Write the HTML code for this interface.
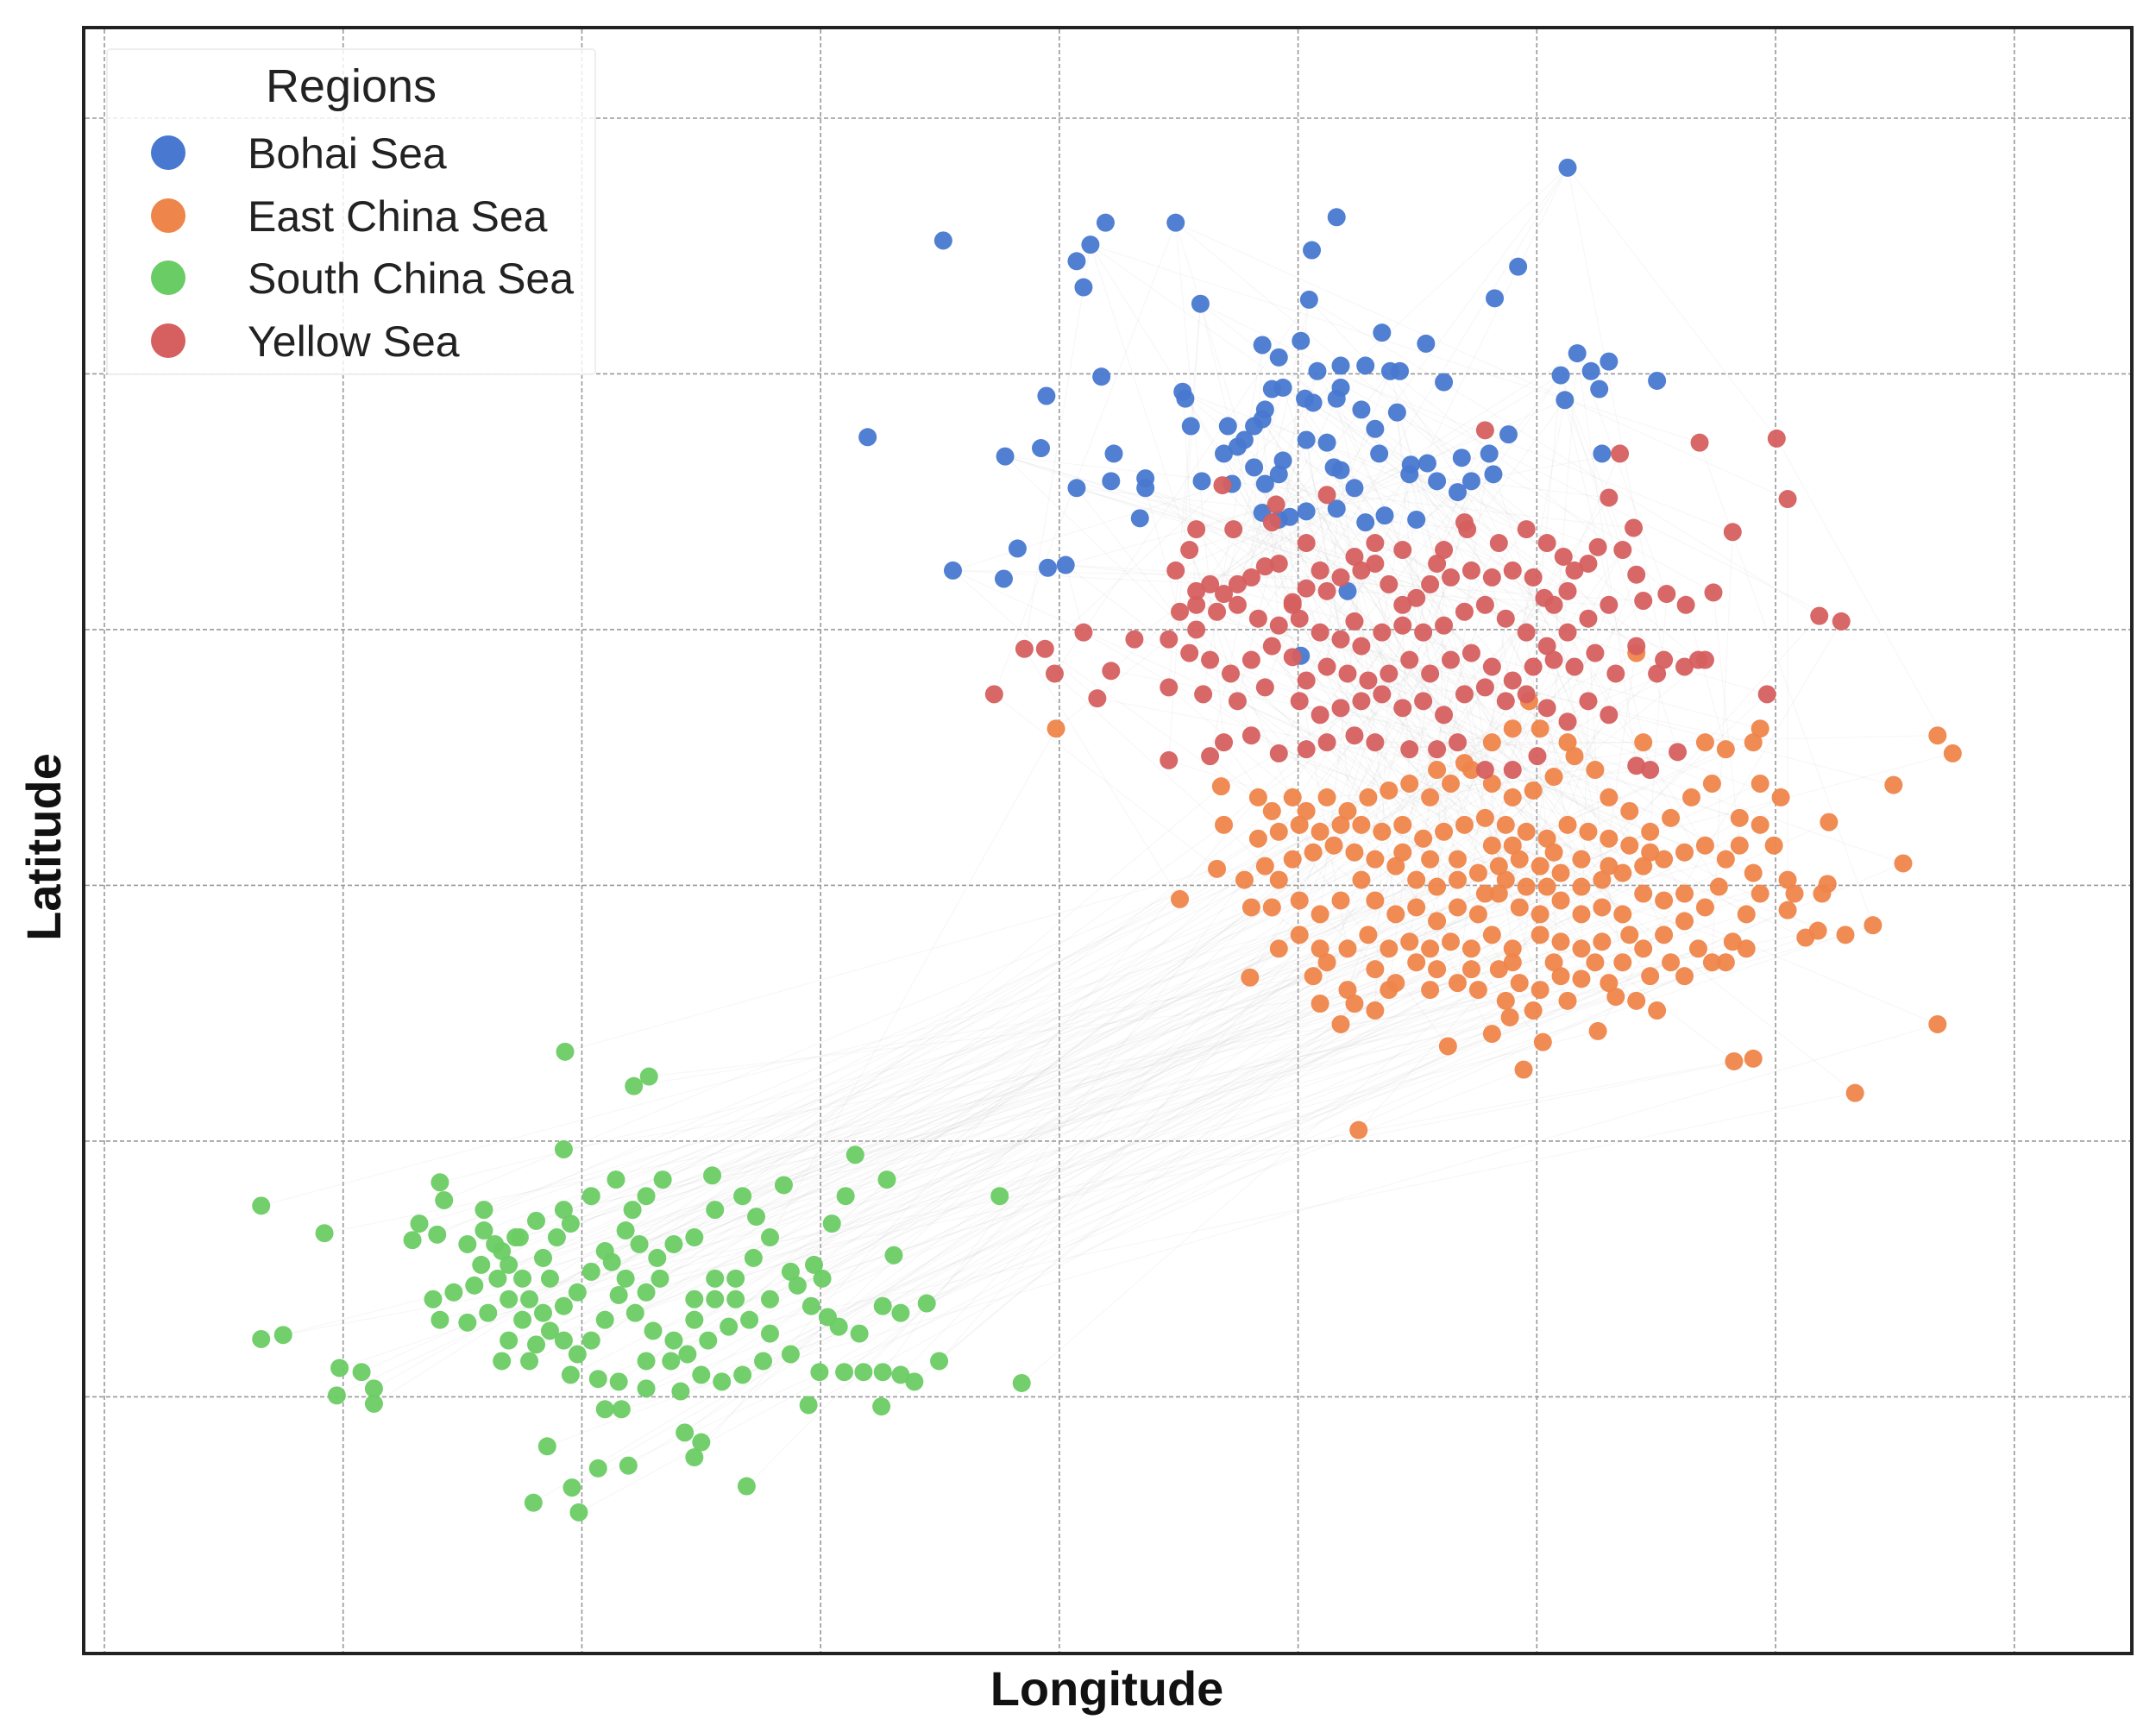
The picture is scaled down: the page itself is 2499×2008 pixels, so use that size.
<!DOCTYPE html>
<html><head><meta charset="utf-8"><style>
html,body{margin:0;padding:0;background:#fff;}
svg{display:block;font-family:"Liberation Sans",Arial,sans-serif;}
</style></head><body>
<svg id="chart" width="2499" height="2008" viewBox="0 0 2499 2008" xmlns="http://www.w3.org/2000/svg">
<rect x="0" y="0" width="2499" height="2008" fill="#fff"/>
<g id="grid"></g>
<g id="edges"></g>
<g id="points"></g>
<rect x="97" y="32" width="2374" height="1885" fill="none" stroke="#222" stroke-width="4"/>
<g>
<rect x="124" y="57" width="566" height="377" fill="#fff" fill-opacity="0.8" stroke="#eee" stroke-width="2" rx="4"/>
<text x="407" y="118" font-size="54" text-anchor="middle" fill="#222">Regions</text>
<g><circle cx="195" cy="177" r="20" fill="#4878d0"/><text x="287" y="195" font-size="50" fill="#222">Bohai Sea</text></g>
<g><circle cx="195" cy="250" r="20" fill="#ee854a"/><text x="287" y="268" font-size="50" fill="#222">East China Sea</text></g>
<g><circle cx="195" cy="322" r="20" fill="#6acc64"/><text x="287" y="340" font-size="50" fill="#222">South China Sea</text></g>
<g><circle cx="195" cy="395" r="20" fill="#d65f5f"/><text x="287" y="413" font-size="50" fill="#222">Yellow Sea</text></g>
</g>
<text x="1283" y="1977" font-size="56" font-weight="bold" text-anchor="middle" fill="#111">Longitude</text>
<text x="0" y="0" transform="translate(70,982) rotate(-90)" font-size="56" font-weight="bold" text-anchor="middle" fill="#111">Latitude</text>
</svg>
<script>
const lonTicks=[7.6,24.96,42.32,59.68,77.04,94.4,111.76,129.12,146.48];
const latTicks=[121.4,102.8,84.2,65.6,47.0,28.4];
const bohai=[[114.0,117.8],[68.6,112.5],[80.4,113.8],[79.3,112.2],[78.3,111.0],[78.8,109.1],[85.5,113.8],[97.2,114.2],[95.4,111.8],[95.2,108.2],[110.4,110.6],[108.7,108.3],[87.3,107.9],[100.5,105.8],[103.7,105.0],[91.8,104.9],[93.0,104.0],[94.6,105.2],[95.8,103.0],[97.5,103.4],[99.3,103.4],[101.1,103.0],[101.8,103.0],[105.0,102.2],[114.7,104.3],[115.7,103.0],[117.0,103.7],[113.5,102.7],[120.5,102.3],[116.3,101.7],[113.8,100.9],[80.1,102.6],[76.1,101.2],[86.0,101.5],[86.2,101.0],[92.5,101.7],[93.3,101.8],[94.9,101.0],[95.5,100.7],[97.2,101.0],[97.5,101.8],[99.0,100.2],[101.6,100.0],[92.0,100.2],[91.2,99.0],[91.8,99.5],[86.6,99.0],[89.3,99.0],[89.0,97.0],[90.0,97.5],[90.5,98.0],[91.2,96.0],[92.0,94.8],[93.3,96.5],[95.0,98.0],[96.5,97.8],[97.0,96.0],[97.5,95.8],[100.0,98.8],[100.3,97.0],[102.6,96.2],[103.8,96.3],[106.3,96.7],[108.3,97.0],[109.7,98.4],[108.6,95.5],[107.0,95.0],[106.0,94.2],[104.5,95.0],[102.5,95.5],[116.5,97.0],[63.1,98.2],[73.1,96.8],[75.7,97.4],[81.0,97.0],[78.3,94.5],[80.8,95.0],[83.3,95.2],[83.3,94.5],[87.4,95.0],[89.6,94.8],[93.0,95.5],[98.5,94.5],[99.3,92.0],[97.2,93.0],[100.7,92.5],[103.0,92.2],[95.0,92.8],[91.8,92.7],[93.0,92.2],[93.8,92.4],[82.9,92.3],[74.0,90.1],[69.3,88.5],[73.0,87.9],[76.2,88.7],[77.5,88.9],[98.0,87.0],[94.6,82.3]];
const eastChina=[[142.0,75.2],[140.9,76.5],[137.7,72.9],[133.0,70.2],[138.4,67.2],[136.2,62.7],[134.2,62.0],[132.2,62.3],[132.9,65.7],[130.5,65.0],[130.0,63.8],[140.9,55.5],[134.9,50.5],[127.5,53.0],[126.1,52.8],[98.8,47.8],[105.3,53.9],[108.5,54.8],[110.8,52.2],[112.2,54.2],[116.2,55.0],[109.8,56.0],[119.0,57.2],[120.5,56.5],[122.5,59.0],[124.5,60.0],[126.0,61.5],[127.0,63.5],[128.0,65.0],[127.5,66.5],[126.5,68.5],[128.0,70.0],[129.5,72.0],[128.0,73.0],[127.5,76.0],[125.5,75.5],[124.0,76.0],[124.5,73.0],[123.0,72.0],[121.5,70.5],[120.0,69.5],[118.5,71.0],[117.0,72.0],[116.0,74.0],[114.5,75.0],[113.0,73.5],[111.5,72.5],[110.0,72.0],[108.5,73.0],[107.0,74.0],[105.5,73.0],[104.0,72.0],[102.5,73.0],[101.0,72.5],[99.5,72.0],[98.0,71.0],[96.5,72.0],[95.0,71.0],[94.0,72.0],[92.5,71.0],[91.5,72.0],[88.8,72.8],[89.0,70.0],[88.5,66.8],[85.8,64.6],[91.0,64.0],[90.9,58.9],[93.0,61.0],[94.5,62.0],[96.0,61.0],[95.5,59.0],[96.0,57.0],[98.0,58.0],[100.0,59.5],[101.5,58.5],[103.0,60.0],[104.5,59.5],[106.0,58.5],[107.5,58.0],[109.0,59.5],[110.5,58.5],[112.0,58.0],[113.5,59.0],[115.0,58.8],[117.0,58.5],[118.0,60.0],[119.5,61.0],[121.0,62.0],[122.5,63.0],[124.0,64.0],[125.0,65.5],[125.5,67.5],[124.0,68.5],[122.5,68.0],[121.0,67.5],[119.5,67.0],[118.0,66.5],[116.5,66.0],[115.0,65.5],[113.5,66.5],[112.0,67.0],[110.5,67.5],[109.0,67.0],[107.5,66.5],[106.0,66.0],[104.5,65.5],[103.0,66.0],[101.5,67.0],[100.0,67.5],[98.5,68.0],[97.0,68.5],[95.5,68.0],[94.0,67.5],[92.0,67.0],[90.5,66.0],[91.5,69.0],[93.0,69.5],[94.5,70.0],[96.0,69.5],[97.5,70.0],[99.0,70.0],[100.5,69.5],[102.0,70.0],[103.5,69.0],[105.0,69.5],[106.5,70.0],[108.0,70.5],[109.5,70.0],[111.0,69.5],[112.5,69.0],[114.0,70.0],[115.5,69.5],[117.0,69.0],[118.5,68.5],[120.0,68.0],[117.0,67.0],[115.0,67.5],[113.0,68.0],[110.0,68.5],[108.5,68.5],[106.0,67.5],[104.0,67.5],[102.0,68.0],[99.0,66.0],[97.5,64.5],[96.0,63.5],[94.5,64.5],[92.5,64.0],[93.0,66.0],[100.0,64.5],[101.5,63.5],[103.0,64.0],[104.5,63.0],[106.0,64.0],[107.5,63.5],[109.0,65.0],[110.5,64.0],[112.0,63.5],[113.5,64.5],[115.0,63.5],[116.5,64.0],[118.0,63.5],[119.5,65.0],[121.0,64.5],[122.5,65.0],[121.5,60.0],[120.0,59.0],[118.5,62.0],[116.5,61.5],[115.0,61.0],[113.5,61.5],[112.0,62.0],[110.0,61.0],[108.5,62.0],[107.0,61.0],[105.5,61.5],[104.0,61.0],[102.5,61.5],[101.0,61.0],[99.5,62.0],[98.0,61.0],[96.5,60.0],[101.0,58.0],[104.0,58.0],[107.0,59.5],[110.0,60.0],[113.0,60.0],[116.0,60.0],[117.5,57.5],[114.0,57.2],[111.5,56.5],[109.5,57.2],[100.0,56.5],[98.5,57.0],[97.5,55.5],[76.8,77.0],[119.0,82.5],[111.2,79.0],[110.0,77.0],[112.0,77.0],[114.0,76.0],[108.5,76.0],[106.5,74.5],[104.5,74.0],[119.5,76.0],[128.0,77.0],[127.0,61.0],[125.5,60.0],[123.5,61.0],[131.3,61.8],[130.0,66.0],[129.0,68.5],[126.5,70.5],[132.5,65.0],[109.5,66.0],[111.0,65.5],[108.0,65.0],[112.5,65.5]];
const southChina=[[19.0,42.3],[23.6,40.3],[19.0,32.6],[20.6,32.9],[24.7,30.5],[26.3,30.2],[24.5,28.5],[27.2,29.0],[27.2,27.9],[41.1,53.5],[46.1,51.0],[47.2,51.7],[41.0,46.4],[32.0,44.0],[30.5,41.0],[30.0,39.8],[31.8,40.2],[32.3,42.7],[35.2,42.0],[34.0,39.5],[35.0,38.0],[34.5,36.5],[36.2,37.0],[37.0,38.0],[36.0,39.5],[37.8,40.0],[39.0,41.2],[41.0,42.0],[41.5,41.0],[40.5,40.0],[39.5,38.5],[38.0,37.0],[37.0,35.5],[35.5,34.5],[34.0,33.8],[32.0,34.0],[31.5,35.5],[33.0,36.0],[38.0,34.0],[39.5,34.5],[41.0,35.0],[42.0,36.0],[43.0,37.5],[44.0,39.0],[45.5,40.5],[46.0,42.0],[47.0,43.0],[48.2,44.2],[44.8,44.2],[43.0,43.0],[46.5,39.5],[47.8,38.5],[49.0,39.5],[50.5,40.0],[52.0,42.0],[51.8,44.5],[54.0,43.0],[55.0,41.5],[57.0,43.8],[56.0,40.0],[54.8,38.5],[53.5,37.0],[52.0,35.5],[50.5,34.0],[49.0,32.5],[47.5,33.2],[46.2,34.5],[45.0,35.8],[44.0,34.0],[43.0,32.5],[42.0,31.5],[41.0,32.5],[40.0,33.2],[39.0,32.2],[37.0,32.5],[36.5,31.0],[38.5,31.0],[47.0,31.0],[48.8,31.0],[50.0,31.5],[51.5,32.5],[53.0,33.5],[54.5,34.0],[56.0,33.0],[57.5,31.5],[55.5,31.0],[54.0,30.0],[52.5,29.5],[51.0,30.0],[49.5,28.8],[47.0,29.0],[45.0,29.5],[43.5,29.7],[41.5,30.0],[44.0,27.5],[45.2,27.5],[39.8,24.8],[41.6,21.8],[43.5,23.2],[45.7,23.4],[49.8,25.8],[51.0,25.1],[50.5,24.0],[54.3,21.9],[38.8,20.7],[42.1,20.0],[58.8,27.8],[59.6,30.2],[61.4,30.2],[62.8,30.2],[64.2,30.2],[65.5,30.0],[66.5,29.5],[64.1,27.7],[68.3,31.0],[61.0,33.5],[62.5,33.0],[60.2,34.2],[59.0,35.0],[58.0,36.5],[59.2,38.0],[60.5,41.0],[61.5,43.0],[62.2,46.0],[64.5,44.2],[65.0,38.7],[64.2,35.0],[65.5,34.5],[67.4,35.2],[72.7,43.0],[74.3,29.4],[59.8,37.0],[57.5,37.5],[47.0,36.0],[48.0,37.0],[50.5,35.5],[52.0,37.0],[53.5,35.5],[56.0,35.5],[45.5,37.0],[44.5,38.2],[40.0,37.0],[38.5,35.5],[35.2,40.5],[36.5,39.0],[37.5,40.0]];
const yellow=[[129.2,98.1],[123.6,97.8],[130.0,93.7],[132.3,85.2],[133.9,84.8],[126.0,91.3],[124.6,86.9],[122.6,86.0],[121.2,86.8],[119.0,88.2],[118.0,90.0],[116.2,90.2],[115.5,89.0],[114.5,88.5],[113.7,89.5],[112.5,90.5],[114.0,87.0],[113.0,86.0],[111.5,88.0],[110.0,88.5],[108.5,88.0],[107.0,88.5],[105.5,88.0],[104.5,89.0],[104.0,87.5],[103.0,86.5],[102.0,86.0],[101.0,87.5],[100.0,89.0],[99.0,88.5],[98.5,89.5],[97.5,88.0],[96.5,87.0],[96.0,88.5],[95.0,87.2],[94.0,86.2],[93.0,89.0],[92.0,88.8],[91.0,88.0],[90.0,87.5],[89.0,86.8],[88.0,87.5],[87.0,87.0],[85.5,88.5],[87.0,86.0],[88.5,85.5],[90.0,86.0],[91.5,85.0],[93.0,84.5],[94.5,85.0],[96.0,84.0],[97.5,83.5],[99.0,83.0],[100.5,84.0],[102.0,84.5],[103.5,84.0],[105.0,84.5],[106.5,85.5],[108.0,86.0],[109.5,85.0],[111.0,84.0],[112.5,83.0],[114.0,84.0],[115.5,85.0],[117.0,86.0],[119.5,86.3],[121.0,82.0],[122.5,81.5],[123.5,82.0],[120.5,81.0],[119.0,83.0],[117.5,81.0],[116.0,82.5],[114.5,81.5],[113.0,82.0],[111.5,81.5],[110.0,80.5],[108.5,81.5],[107.0,82.5],[105.5,82.0],[104.0,81.0],[102.5,82.0],[101.0,81.0],[99.5,80.5],[98.0,81.0],[96.5,81.5],[95.0,80.5],[94.0,82.2],[92.5,83.0],[91.0,82.0],[89.5,81.0],[88.0,82.0],[86.5,82.5],[85.0,83.5],[85.8,85.5],[82.5,83.5],[80.8,81.2],[79.8,79.2],[78.8,84.0],[76.0,82.8],[74.5,82.8],[72.3,79.5],[76.7,81.0],[85.0,80.0],[87.5,79.5],[90.0,79.0],[92.0,80.0],[94.5,79.0],[96.0,78.0],[97.5,78.5],[99.0,79.0],[100.5,79.5],[102.0,78.5],[103.5,79.0],[105.0,78.0],[106.5,79.5],[108.0,80.0],[109.5,79.0],[111.0,79.5],[112.5,78.5],[114.0,77.5],[115.5,79.0],[117.0,78.0],[124.0,82.0],[128.5,79.5],[106.0,76.0],[104.5,75.5],[102.5,75.5],[100.0,76.0],[98.5,76.5],[96.5,76.0],[95.0,75.5],[93.0,75.2],[91.0,76.5],[89.0,76.0],[88.0,75.0],[85.0,74.7],[111.8,75.0],[110.0,74.0],[108.0,74.0],[119.0,74.3],[122.0,75.3],[120.0,74.0],[112.3,86.5],[109.0,90.5],[106.5,92.0],[105.0,90.0],[102.0,90.0],[100.0,90.5],[95.0,90.5],[92.5,92.0],[89.7,91.5],[87.0,91.5],[86.5,90.0],[111.0,91.5],[117.0,93.8],[118.8,91.6],[106.7,91.5],[98.5,84.8],[87.0,84.2],[108.0,98.7],[117.8,97.0],[94.0,86.0],[88.9,94.7],[92.8,93.3],[96.5,94.0]];

const NS='http://www.w3.org/2000/svg';
const X0=121, LON0=7.6, KX=15.94, Y0=137, LAT0=121.4, KY=15.94;
function xScale(lon){return X0+(lon-LON0)*KX;}
function yScale(lat){return Y0+(LAT0-lat)*KY;}

const grid=document.getElementById('grid');
lonTicks.forEach(function(t){
  const l=document.createElementNS(NS,'line');
  l.setAttribute('x1',xScale(t));l.setAttribute('x2',xScale(t));
  l.setAttribute('y1',34);l.setAttribute('y2',1915);
  l.setAttribute('stroke','#999');l.setAttribute('stroke-width','1.6');l.setAttribute('stroke-dasharray','5,3');
  
  
  grid.appendChild(l);
});
latTicks.forEach(function(t){
  const l=document.createElementNS(NS,'line');
  l.setAttribute('y1',yScale(t));l.setAttribute('y2',yScale(t));
  l.setAttribute('x1',99);l.setAttribute('x2',2469);
  l.setAttribute('stroke','#999');l.setAttribute('stroke-width','1.6');l.setAttribute('stroke-dasharray','5,3');
  
  
  grid.appendChild(l);
});

const edgesG=document.getElementById('edges');
function edge(a,b){
  const l=document.createElementNS(NS,'line');
  l.setAttribute('x1',xScale(a[0]));l.setAttribute('y1',yScale(a[1]));
  l.setAttribute('x2',xScale(b[0]));l.setAttribute('y2',yScale(b[1]));
  l.setAttribute('stroke','#ccc');l.setAttribute('stroke-opacity','0.15');l.setAttribute('stroke-width','1.2');
  
  
  edgesG.appendChild(l);
}
southChina.forEach(function(p,i){edge(p,eastChina[(i*7)%eastChina.length]);});
yellow.forEach(function(p,i){edge(p,eastChina[(i*5)%eastChina.length]);edge(p,bohai[(i*3)%bohai.length]);});

const pts=document.getElementById('points');
function drawSeries(data,color,name){
  data.forEach(function(p){
    const c=document.createElementNS(NS,'circle');
    c.setAttribute('cx',xScale(p[0]));c.setAttribute('cy',yScale(p[1]));
    c.setAttribute('r',10.5);c.setAttribute('fill',color);c.setAttribute('fill-opacity','0.95');
    
    
    pts.appendChild(c);
  });
}
drawSeries(bohai,'#4878d0','point-bohai-sea');
drawSeries(eastChina,'#ee854a','point-east-china-sea');
drawSeries(southChina,'#6acc64','point-south-china-sea');
drawSeries(yellow,'#d65f5f','point-yellow-sea');
</script>
</body></html>
